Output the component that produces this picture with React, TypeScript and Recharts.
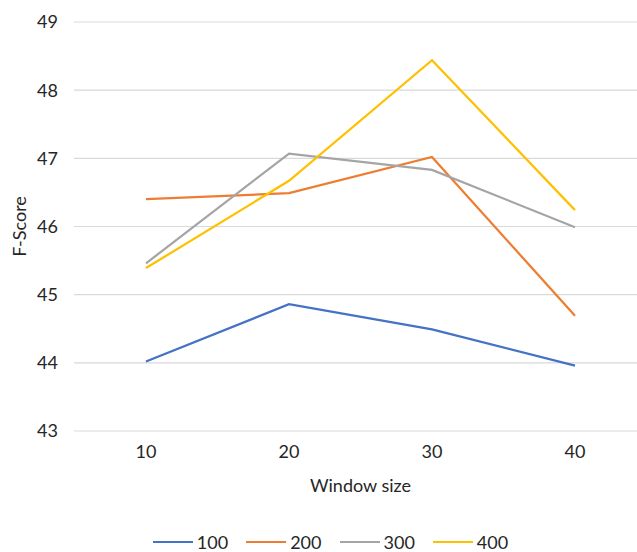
import React from 'react';
import { LineChart, Line, XAxis, YAxis, CartesianGrid, Legend } from 'recharts';

// window sizes on the x axis
const windowSizes = [10, 20, 30, 40];

// F-score per series (series named by their setting)
const s100 = [44.02, 44.86, 44.49, 43.96];
const s200 = [46.4, 46.49, 47.02, 44.69];
const s300 = [45.46, 47.07, 46.83, 45.99];
const s400 = [45.39, 46.67, 48.44, 46.24];

const yTicks = [43, 44, 45, 46, 47, 48, 49];

const seriesList = [
  { key: '100', values: s100, color: '#4472C4' },
  { key: '200', values: s200, color: '#ED7D31' },
  { key: '300', values: s300, color: '#A5A5A5' },
  { key: '400', values: s400, color: '#FFC000' },
];

const chartData = windowSizes.map((w, i) => {
  const row: Record<string, number> = { window: w };
  seriesList.forEach((s) => {
    row[s.key] = s.values[i];
  });
  return row;
});

const FONT = 'Lato, "Open Sans", sans-serif';
const TEXT = '#262626';
const FS = 18;

function LegendContent() {
  return (
    <div
      style={{
        display: 'flex',
        justifyContent: 'center',
        alignItems: 'center',
        height: 20,
        paddingLeft: 32,
        fontFamily: FONT,
        fontSize: FS,
        color: TEXT,
      }}
    >
      {seriesList.map((s) => (
        <div key={s.key} style={{ display: 'flex', alignItems: 'center', marginRight: 18 }}>
          <div style={{ width: 40, height: 2.5, background: s.color, marginRight: 4 }} />
          <span>{s.key}</span>
        </div>
      ))}
    </div>
  );
}

export default function App() {
  return (
    <div
      style={{
        position: 'absolute',
        left: 0,
        top: 0,
        width: 637,
        height: 552,
        overflow: 'hidden',
        background: '#fff',
      }}
    >
      <LineChart
        width={650}
        height={552}
        data={chartData}
        margin={{ top: 22, right: 3, left: 0, bottom: 0 }}
      >
        <CartesianGrid vertical={false} stroke="#D9D9D9" strokeWidth={1.2} />
        <XAxis
          dataKey="window"
          axisLine={false}
          tickLine={false}
          tickSize={0}
          tickMargin={14}
          height={101}
          padding={{ left: 72, right: 72 }}
          tick={{ fill: TEXT, fontSize: FS, fontFamily: FONT }}
          label={{
            value: 'Window size',
            position: 'insideTop',
            offset: 48,
            fill: TEXT,
            fontSize: FS,
            fontFamily: FONT,
          }}
        />
        <YAxis
          domain={[43, 49]}
          ticks={yTicks}
          axisLine={false}
          tickLine={false}
          tickSize={0}
          tickMargin={16}
          width={74}
          tick={{ fill: TEXT, fontSize: FS, fontFamily: FONT }}
          label={{
            value: 'F-Score',
            angle: -90,
            position: 'insideLeft',
            offset: 20,
            style: { textAnchor: 'middle' },
            fill: TEXT,
            fontSize: FS,
            fontFamily: FONT,
          }}
        />
        <Legend verticalAlign="bottom" content={<LegendContent />} />
        {seriesList.map((s) => (
          <Line
            key={s.key}
            type="linear"
            dataKey={s.key}
            stroke={s.color}
            strokeWidth={2.25}
            dot={false}
            isAnimationActive={false}
          />
        ))}
      </LineChart>
    </div>
  );
}
